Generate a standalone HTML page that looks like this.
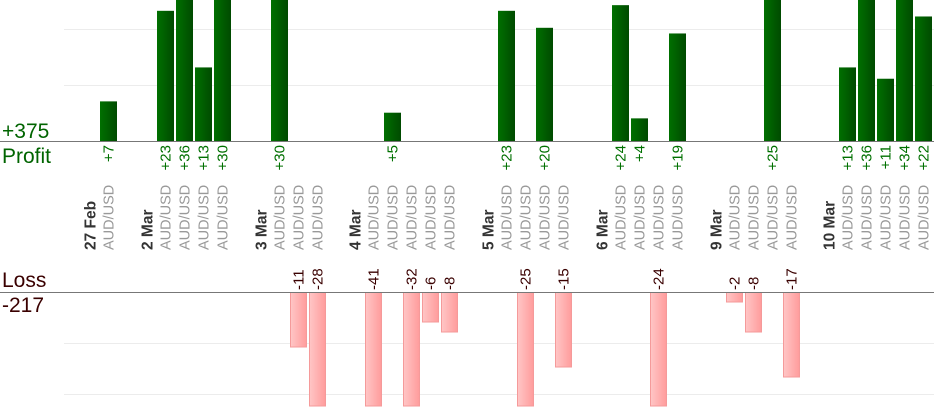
<!DOCTYPE html>
<html><head><meta charset="utf-8"><style>
body{margin:0;background:#fff;}
svg{display:block;font-family:"Liberation Sans",sans-serif;}
</style></head><body>
<svg id="s" width="934" height="420" xmlns="http://www.w3.org/2000/svg">
<defs>
<linearGradient id="g" x1="0" x2="1" y1="0" y2="0"><stop offset="0" stop-color="#007000"/><stop offset="1" stop-color="#004a00"/></linearGradient>
<linearGradient id="r" x1="0" x2="1" y1="0" y2="0"><stop offset="0" stop-color="#ffc6c6"/><stop offset="1" stop-color="#ff9c9c"/></linearGradient>
</defs>
<line x1="64" x2="934" y1="29.5" y2="29.5" stroke="#ececec"/>
<line x1="64" x2="934" y1="85.5" y2="85.5" stroke="#ececec"/>
<line x1="64" x2="934" y1="343.5" y2="343.5" stroke="#ececec"/>
<line x1="64" x2="934" y1="394.5" y2="394.5" stroke="#ececec"/>
<g id="bars"></g>
<line x1="0" x2="934" y1="141.5" y2="141.5" stroke="#777"/>
<line x1="0" x2="934" y1="292.5" y2="292.5" stroke="#777"/>
<text x="2" y="138" font-size="21" fill="#006400">+375</text>
<text x="2" y="163" font-size="21" fill="#006400">Profit</text>
<text x="2" y="287" font-size="21" fill="#3a0000">Loss</text>
<text x="2" y="312" font-size="21" fill="#3a0000">-217</text>
</svg>
<script>
var P={1:7,4:23,5:36,6:13,7:30,10:30,16:5,22:23,24:20,28:24,29:4,31:19,36:25,40:13,41:36,42:11,43:34,44:22};
var L={11:-11,12:-28,15:-41,17:-32,18:-6,19:-8,23:-25,25:-15,30:-24,34:-2,35:-8,37:-17};
var D={0:"27 Feb",3:"2 Mar",9:"3 Mar",14:"4 Mar",21:"5 Mar",27:"6 Mar",33:"9 Mar",39:"10 Mar"};
var h="";
function X(n){return Math.round(100+18.96*(n-1));}
for(var n=0;n<=44;n++){
 var x=X(n),c=x+13.5;
 if(D[n]){h+='<text transform="translate('+(c+1)+',250) rotate(-90)" font-size="15.5" font-weight="bold" fill="#333">'+D[n]+'</text>';continue;}
 if(P[n]!==undefined){
  var t=Math.max(0,141-P[n]*5.66);
  h+='<rect x="'+x+'" y="'+t+'" width="17" height="'+(141-t)+'" fill="url(#g)"/>';
  h+='<text transform="translate('+c+',145) rotate(-90)" text-anchor="end" font-size="15" fill="#007000">+'+P[n]+'</text>';
 }
 if(L[n]!==undefined){
  var b=Math.min(406,292-L[n]*5);
  h+='<rect x="'+(x+0.5)+'" y="292.5" width="16" height="'+(b-292.5)+'" fill="url(#r)" stroke="#f59a9a"/>';
  h+='<text transform="translate('+c+',290) rotate(-90)" font-size="15" fill="#3a0000">'+L[n]+'</text>';
 }
 if(P[n]!==undefined||L[n]!==undefined)
  h+='<text transform="translate('+c+',250) rotate(-90)" font-size="14.5" fill="#999">AUD/USD</text>';
}
document.getElementById("bars").innerHTML=h;
</script>
</body></html>
